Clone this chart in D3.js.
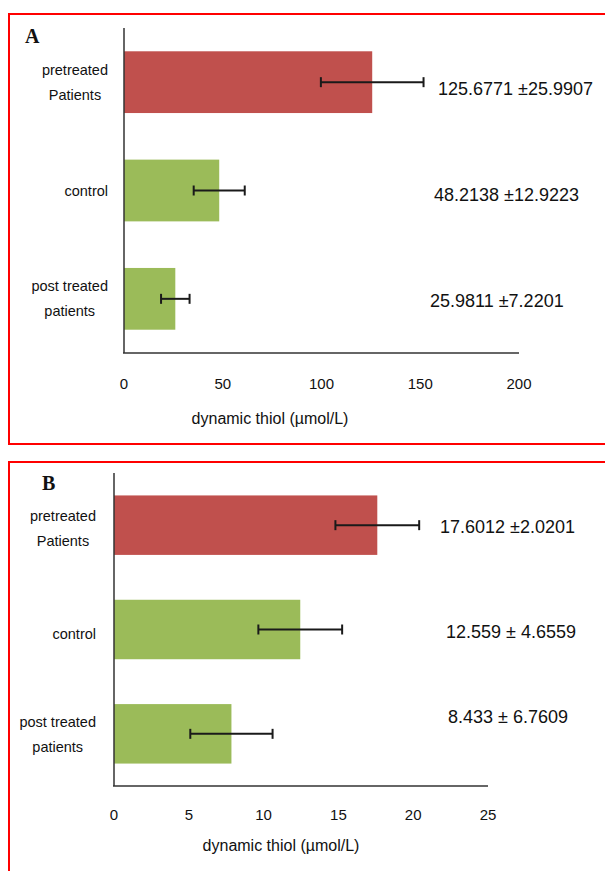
<!DOCTYPE html>
<html>
<head>
<meta charset="utf-8">
<script src="https://cdn.jsdelivr.net/npm/d3@7"></script>
<style>
  html, body { margin: 0; padding: 0; background: #fff; }
  svg { display: block; }
  text { font-family: "Liberation Sans", Arial, sans-serif; fill: #111; }
</style>
</head>
<body>
<div id="chart"></div>
<script>
// data
const categories = ["pretreated Patients", "control", "post treated patients"]
const categoryLines = [["pretreated", "Patients"], ["control"], ["post treated", "patients"]]

const meansA = [125.6771, 48.2138, 25.9811]
const errorsA = [25.9907, 12.9223, 7.2201]
const labelsA = ["125.6771 \u00b125.9907", "48.2138 \u00b112.9223", "25.9811 \u00b17.2201"]
const ticksA = [0, 50, 100, 150, 200]

// panel B bars as drawn (error bars look wider than the printed SD)
const meansB = [17.6, 12.45, 7.85]
const errorsB = [2.8, 2.8, 2.75]
const labelsB = ["17.6012 \u00b12.0201", "12.559 \u00b1 4.6559", "8.433 \u00b1 6.7609"]
const ticksB = [0, 5, 10, 15, 20, 25]

const colors = ["#C0504D", "#9BBB59", "#9BBB59"]
const axisTitle = "dynamic thiol (\u00b5mol/L)"

const width = 605
const height = 871

const svg = d3.select("#chart").append("svg")
    .attr("width", width)
    .attr("height", height)

function panel(opts) {
    const g = svg.append("g")

    // red frame
    g.append("rect")
        .attr("x", 9).attr("y", opts.frameTop)
        .attr("width", 620).attr("height", opts.frameHeight)
        .attr("fill", "none")
        .attr("stroke", "#f00")
        .attr("stroke-width", 2)

    g.append("text")
        .attr("x", opts.letterX).attr("y", opts.letterY)
        .style("font-family", "'Liberation Serif', 'DejaVu Serif', serif")
        .style("font-weight", "bold")
        .style("font-size", "20px")
        .text(opts.letter)

    const x = d3.scaleLinear().domain([0, opts.max]).range([opts.x0, opts.x1])
    const y = d3.scaleBand().domain(categories).range([opts.yTop, opts.yBottom]).paddingInner(0.43).paddingOuter(0.215)

    // bars
    g.selectAll("rect.bar")
        .data(opts.means)
        .join("rect")
        .attr("class", "bar")
        .attr("x", x(0))
        .attr("y", (d, i) => y(categories[i]))
        .attr("width", (d) => x(d) - x(0))
        .attr("height", y.bandwidth())
        .attr("fill", (d, i) => colors[i])

    // error bars
    const eg = g.append("g").attr("stroke", "#1a1a1a").attr("stroke-width", 2)
    opts.means.forEach((m, i) => {
        const cy = y(categories[i]) + y.bandwidth() / 2
        const lo = x(m - opts.errors[i])
        const hi = x(m + opts.errors[i])
        eg.append("line").attr("x1", lo).attr("x2", hi).attr("y1", cy).attr("y2", cy)
        eg.append("line").attr("x1", lo).attr("x2", lo).attr("y1", cy - 5).attr("y2", cy + 5)
        eg.append("line").attr("x1", hi).attr("x2", hi).attr("y1", cy - 5).attr("y2", cy + 5)
    })

    // axes
    g.append("line")
        .attr("x1", x(0)).attr("x2", x(0))
        .attr("y1", opts.yTop).attr("y2", opts.yBottom)
        .attr("stroke", "#333").attr("stroke-width", 1.5)
    g.append("line")
        .attr("x1", x(0) - 1).attr("x2", x(opts.max))
        .attr("y1", opts.yBottom).attr("y2", opts.yBottom)
        .attr("stroke", "#333").attr("stroke-width", 1.5)

    g.selectAll("text.tick")
        .data(opts.ticks)
        .join("text")
        .attr("class", "tick")
        .attr("x", (d) => x(d))
        .attr("y", opts.tickY)
        .attr("text-anchor", "middle")
        .attr("dominant-baseline", "middle")
        .style("font-size", "15px")
        .text((d) => d)

    g.append("text")
        .attr("x", opts.titleX).attr("y", opts.titleY)
        .attr("text-anchor", "middle")
        .attr("dominant-baseline", "middle")
        .style("font-size", "16px")
        .text(axisTitle)

    // category labels: lines centred, block right-aligned
    categoryLines.forEach((lines, i) => {
        const cy = y(categories[i]) + y.bandwidth() / 2 + opts.catShift[i]
        const t = g.append("text")
            .attr("text-anchor", "middle")
            .style("font-size", "14.5px")
        lines.forEach((s, j) => {
            t.append("tspan")
                .attr("y", cy + (j - (lines.length - 1) / 2) * 25)
                .attr("dy", "0.35em")
                .text(s)
        })
        const w = d3.max(t.selectAll("tspan").nodes(), (n) => n.getComputedTextLength())
        t.selectAll("tspan").attr("x", opts.labelRight - w / 2)
    })

    // value labels
    g.selectAll("text.val")
        .data(opts.labels)
        .join("text")
        .attr("class", "val")
        .attr("x", (d, i) => opts.valX[i])
        .attr("y", (d, i) => y(categories[i]) + y.bandwidth() / 2 + opts.valShift[i])
        .attr("dominant-baseline", "middle")
        .style("font-size", "18px")
        .text((d) => d)
}

panel({
    frameTop: 14, frameHeight: 430,
    letter: "A", letterX: 25, letterY: 43,
    max: 200, x0: 124, x1: 519,
    yTop: 28, yBottom: 353,
    means: meansA, errors: errorsA, labels: labelsA, ticks: ticksA,
    tickY: 385, titleX: 270, titleY: 420,
    labelRight: 108, catShift: [0, 0, 0],
    valX: [438, 434, 430], valShift: [8, 6, 3],
})

panel({
    frameTop: 462, frameHeight: 430,
    letter: "B", letterX: 42, letterY: 490,
    max: 25, x0: 114, x1: 488,
    yTop: 473, yBottom: 786,
    means: meansB, errors: errorsB, labels: labelsB, ticks: ticksB,
    tickY: 816, titleX: 281, titleY: 847,
    labelRight: 96, catShift: [3, 4, 1],
    valX: [440, 446, 448], valShift: [3, 4, -16],
})
</script>
</body>
</html>
